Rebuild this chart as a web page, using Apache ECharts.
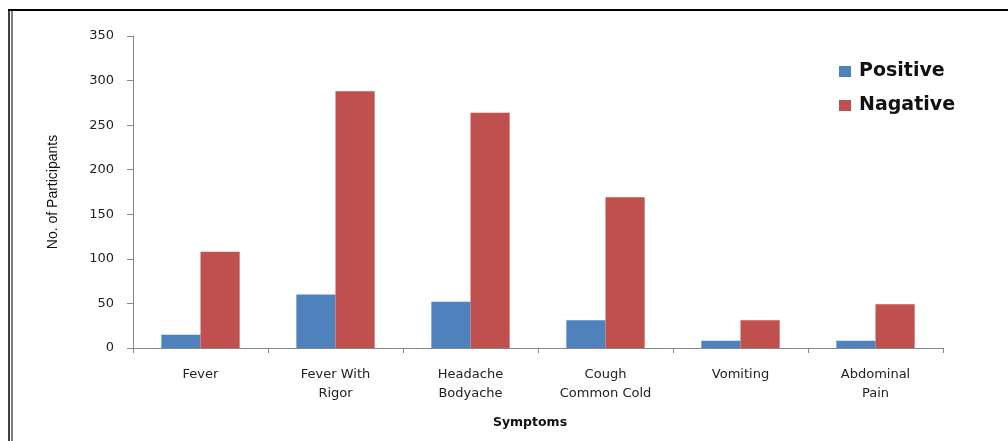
<!DOCTYPE html>
<html>
<head>
<meta charset="utf-8">
<script src="https://cdn.jsdelivr.net/npm/echarts@6/dist/echarts.min.js"></script>
<style>
html,body{margin:0;padding:0;background:#fff;}
#c{width:1008px;height:441px;}
</style>
</head>
<body>
<div id="c"></div>
<script>
const categories = ['Fever', 'Fever With\nRigor', 'Headache\nBodyache', 'Cough\nCommon Cold', 'Vomiting', 'Abdominal\nPain'];
const positive = [15, 60, 52, 31, 8, 8];
const negative = [108, 288, 264, 169, 31, 49];
const seriesNames = ['Positive', 'Nagative'];

const chart = echarts.init(document.getElementById('c'));
chart.setOption({
  animation: false,
  backgroundColor: '#fff',
  textStyle: { fontFamily: 'DejaVu Sans' },
  graphic: [
    { type: 'line', shape: { x1: 8, y1: 10, x2: 1008, y2: 10 }, style: { stroke: '#000', lineWidth: 2 } },
    { type: 'line', shape: { x1: 9, y1: 10, x2: 9, y2: 441 }, style: { stroke: '#000', lineWidth: 1.5 } },
    { type: 'line', shape: { x1: 12, y1: 10, x2: 12, y2: 441 }, style: { stroke: '#000', lineWidth: 1 } }
  ],
  legend: {
    orient: 'vertical',
    left: 834,
    top: 57,
    itemWidth: 12,
    itemHeight: 11,
    itemGap: 15,
    icon: 'rect',
    textStyle: { fontFamily: 'DejaVu Sans', fontWeight: 'bold', fontSize: 19, color: '#111', padding: [0, 0, 0, 3] },
    data: seriesNames
  },
  grid: { left: 133, right: 65, top: 36, bottom: 93, containLabel: false },
  xAxis: {
    type: 'category',
    data: categories,
    name: 'Symptoms',
    nameLocation: 'middle',
    nameGap: 68,
    nameTextStyle: { fontFamily: 'DejaVu Sans', fontWeight: 'bold', fontSize: 12.5, color: '#111', padding: [0, 16, 0, 0] },
    axisLine: { lineStyle: { color: '#888' } },
    axisTick: { show: true, length: 5, lineStyle: { color: '#888' } },
    axisLabel: { fontSize: 13, color: '#222', margin: 17, lineHeight: 19, fontFamily: 'DejaVu Sans' }
  },
  yAxis: {
    type: 'value',
    min: 0,
    max: 350,
    interval: 50,
    name: 'No. of Participants',
    nameLocation: 'middle',
    nameGap: 73,
    nameRotate: 90,
    nameTextStyle: { fontFamily: 'Liberation Sans Narrow, Liberation Sans', fontSize: 14, color: '#111' },
    axisLine: { show: true, lineStyle: { color: '#888' } },
    axisTick: { show: true, length: 6, lineStyle: { color: '#888' } },
    splitLine: { show: false },
    axisLabel: { fontSize: 13, color: '#222', margin: 19, fontFamily: 'DejaVu Sans' }
  },
  series: [
    { name: seriesNames[0], type: 'bar', data: positive, itemStyle: { color: '#4F81BD' }, barGap: '0%', barCategoryGap: '42%' },
    { name: seriesNames[1], type: 'bar', data: negative, itemStyle: { color: '#C0504D' }, barGap: '0%', barCategoryGap: '42%' }
  ]
});
</script>
</body>
</html>
